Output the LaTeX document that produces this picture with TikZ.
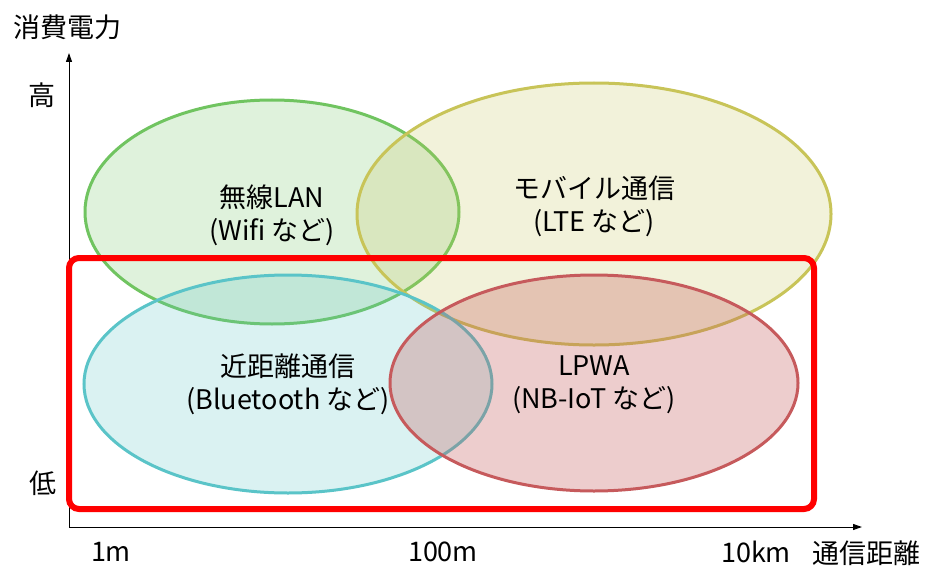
\documentclass[tikz,border=0pt]{standalone}
\usepackage{fontspec}
\setmainfont{Noto Sans CJK JP}
\usetikzlibrary{arrows.meta}
\definecolor{gline}{RGB}{112,196,96}
\definecolor{yline}{RGB}{200,196,88}
\definecolor{cline}{RGB}{90,196,200}
\definecolor{pline}{RGB}{198,90,92}
\begin{document}
\begin{tikzpicture}[x=1pt,y=-1pt,
  lbl/.style={font=\fontsize{27}{33}\selectfont,align=center,inner sep=0pt,text=black},
  axlbl/.style={font=\fontsize{27}{30}\selectfont,inner sep=0pt,text=black},
  blob/.style={line width=3pt,fill opacity=0.22},
  axisline/.style={line width=1pt,-{Triangle[length=9pt,width=6pt]}}]
\useasboundingbox (0,0) rectangle (925,567);
\fill[white] (0,0) rectangle (925,567);
% ellipses
\draw[blob,draw=gline,fill=gline] (272,212) ellipse [x radius=187,y radius=112];
\draw[blob,draw=yline,fill=yline] (594,214) ellipse [x radius=237,y radius=131];
\draw[blob,draw=cline,fill=cline] (288,384) ellipse [x radius=204,y radius=109];
\draw[blob,draw=pline,fill=pline,fill opacity=0.3] (594,383) ellipse [x radius=204,y radius=108];
% axes
\coordinate (o) at (69,527);
\coordinate (ytop) at (69,53);
\coordinate (xend) at (862,527);
\draw[axisline] (o) -- (ytop);
\draw[axisline] (o) -- (xend);
% red frame
\draw[red,line width=6pt,rounded corners=10pt] (69,258) rectangle (814,509);
% labels
\node[lbl] (wlan) at (272,215) {無線LAN\\(Wifi など)};
\node[lbl] (mob) at (594,206) {モバイル通信\\(LTE など)};
\node[lbl] (near) at (288,384) {近距離通信\\(Bluetooth など)};
\node[lbl] (lpwa) at (594,385) {LPWA\\(NB-IoT など)};
\node[axlbl] (power) at (67,27) {消費電力};
\node[axlbl] (high) at (42,95) {高};
\node[axlbl] (low) at (43,483) {低};
\node[axlbl] (m1) at (111,552) {1m};
\node[axlbl] (m100) at (443,552) {100m};
\node[axlbl] (km10) at (756,552) {10km};
\node[axlbl] (dist) at (866,553) {通信距離};
\end{tikzpicture}
\end{document}
